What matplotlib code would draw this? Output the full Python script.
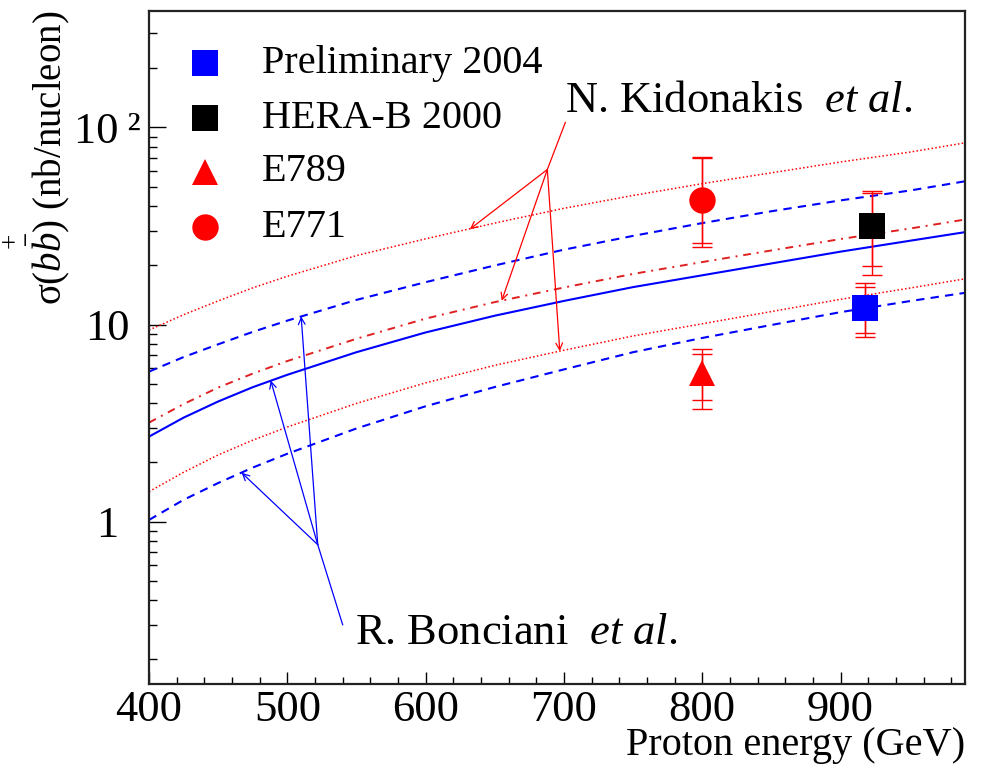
import matplotlib
matplotlib.use('Agg')
import matplotlib.pyplot as plt
import numpy as np
from matplotlib.ticker import FixedLocator, MultipleLocator, LogLocator, NullFormatter

plt.rcParams['font.family'] = ['Liberation Serif', 'DejaVu Serif']
plt.rcParams['mathtext.fontset'] = 'custom'
plt.rcParams['mathtext.rm'] = 'Liberation Serif'
plt.rcParams['mathtext.it'] = 'Liberation Serif:italic'
plt.rcParams['mathtext.bf'] = 'Liberation Serif:bold'

# ---------------- data ----------------
energy = [400, 425, 450, 475, 500, 550, 600, 650, 700, 750, 800, 850, 900, 950, 990]
bonciani_central = [2.70, 3.37, 4.07, 4.81, 5.56, 7.24, 9.12, 11.09, 13.18, 15.49, 17.78, 20.42, 23.44, 26.61, 29.44]
bonciani_upper = [5.77, 6.84, 7.94, 9.18, 10.47, 13.34, 16.41, 19.95, 23.99, 28.18, 32.73, 37.58, 42.66, 47.86, 53.33]
bonciani_lower = [1.02, 1.29, 1.57, 1.88, 2.21, 2.97, 3.85, 4.82, 5.92, 7.24, 8.55, 9.95, 11.56, 13.15, 14.49]
kidonakis_central = [3.18, 3.95, 4.79, 5.64, 6.53, 8.47, 10.72, 13.00, 15.42, 18.07, 20.75, 23.77, 27.16, 30.69, 34.12]
kidonakis_upper = [9.38, 11.22, 13.18, 15.35, 17.58, 22.39, 27.23, 32.73, 38.90, 45.19, 51.88, 58.88, 66.83, 74.99, 83.56]
kidonakis_lower = [1.42, 1.78, 2.18, 2.59, 3.02, 3.98, 5.06, 6.21, 7.41, 8.75, 10.09, 11.64, 13.43, 15.31, 17.06]

point_labels = ['Preliminary 2004', 'HERA-B 2000', 'E789', 'E771']
point_energy = [918, 923, 800, 800]
point_sigma = [12.2, 31.8, 5.7, 43.0]
stat_low = [9.1, 19.9, 4.16, 26.0]
stat_high = [15.5, 46.6, 7.13, 70.0]
tot_low = [8.6, 17.9, 3.73, 24.7]
tot_high = [16.3, 47.5, 7.55, 71.0]
point_markers = ['s', 's', '^', 'o']
point_colors = ['#0000ff', '#000000', '#ff0000', '#ff0000']

x_ticks = [400, 500, 600, 700, 800, 900]
y_ticks = [1, 10, 100]
y_tick_labels = ['1', '10', '10\u2009\u00b2']

kid_text = (701, 120)
kid_start = (701, 106)
kid_hub = (688, 61.2)
kid_tips = [(632, 30.5), (655, 13.2), (697, 7.33)]
bon_text = (549, 0.238)
bon_start = (540, 0.30)
bon_hub = (522, 0.764)
bon_tips = [(510, 11.0), (488, 5.2), (467, 1.77)]

# ---------------- figure ----------------
fig = plt.figure(figsize=(9.81, 7.65), dpi=100)
ax = fig.add_axes([0.1519, 0.1059, 0.8318, 0.8797])
ax.set_yscale('log')
ax.set_xlim(400, 990)
ax.set_ylim(0.15, 390)

blue = '#0000ff'
red = '#ff0000'
ax.plot(energy, kidonakis_upper, color=red, lw=1.1, ls=(0, (1, 1.5)))
ax.plot(energy, kidonakis_lower, color=red, lw=1.1, ls=(0, (1, 1.5)))
ax.plot(energy, kidonakis_central, color='#e02020', lw=1.4, ls=(0, (4, 3, 1, 3)))
ax.plot(energy, bonciani_upper, color=blue, lw=1.5, ls=(0, (4, 3)))
ax.plot(energy, bonciani_lower, color=blue, lw=1.5, ls=(0, (4, 3)))
ax.plot(energy, bonciani_central, color=blue, lw=1.5, ls='-')

for i in range(len(point_energy)):
    x = point_energy[i]
    y = point_sigma[i]
    for lo, hi in ((stat_low[i], stat_high[i]), (tot_low[i], tot_high[i])):
        ax.errorbar([x], [y], yerr=[[y - lo], [hi - y]], fmt='none', ecolor=red,
                    elinewidth=1.0, capsize=7, capthick=1.0, zorder=3)
    ax.plot([x], [y], marker=point_markers[i], color=point_colors[i], ms=19,
            mew=0, ls='none', zorder=4)

# legend (manual)
leg_y = [0.9227, 0.841, 0.7608, 0.679]
for i, lab in enumerate(point_labels):
    ax.plot([0.0686], [leg_y[i]], marker=point_markers[i], color=point_colors[i],
            ms=19, mew=0, transform=ax.transAxes, clip_on=False)
    ax.text(0.1385, leg_y[i], lab, transform=ax.transAxes, fontsize=29,
            va='center', ha='left')

# annotations
ax.text(kid_text[0], kid_text[1], r'N. Kidonakis  $\mathit{et\ al.}$', fontsize=32,
        ha='left', va='baseline')
ax.plot([kid_start[0], kid_hub[0]], [kid_start[1], kid_hub[1]], color=red, lw=0.9)
for tip in kid_tips:
    ax.annotate('', xy=tip, xytext=kid_hub,
                arrowprops=dict(arrowstyle='->', color=red, lw=0.9,
                                shrinkA=0, shrinkB=0, mutation_scale=12))
ax.text(bon_text[0], bon_text[1], r'R. Bonciani  $\mathit{et\ al.}$', fontsize=32,
        ha='left', va='baseline')
ax.plot([bon_start[0], bon_hub[0]], [bon_start[1], bon_hub[1]], color=blue, lw=0.9)
for tip in bon_tips:
    ax.annotate('', xy=tip, xytext=bon_hub,
                arrowprops=dict(arrowstyle='->', color=blue, lw=0.9,
                                shrinkA=0, shrinkB=0, mutation_scale=12))

# axes styling
ax.xaxis.set_major_locator(FixedLocator(x_ticks))
ax.xaxis.set_minor_locator(MultipleLocator(20))
ax.yaxis.set_major_locator(FixedLocator(y_ticks))
ax.yaxis.set_minor_locator(LogLocator(base=10, subs=np.arange(2, 10)))
ax.yaxis.set_minor_formatter(NullFormatter())
ax.set_yticklabels(y_tick_labels)
ax.tick_params(axis='both', which='both', direction='in', top=False, right=False)
ax.tick_params(axis='x', which='major', length=9, width=1, labelsize=32, pad=4)
ax.tick_params(axis='x', which='minor', length=5, width=1)
ax.tick_params(axis='y', which='major', length=12, width=1, labelsize=32, pad=30)
ax.tick_params(axis='y', which='minor', length=6, width=1)
for lab in ax.get_yticklabels():
    lab.set_horizontalalignment('center')
for sp in ax.spines.values():
    sp.set_linewidth(1.6)
    sp.set_color('#222222')

ax.text(1.0, -0.092, 'Proton energy (GeV)', transform=ax.transAxes, fontsize=29,
        ha='right', va='center')
ax.text(-0.138, 1.0, 'σ(' + r'$b\overset{+}{\bar{b}}$' + ') (nb/nucleon)',
        transform=ax.transAxes, fontsize=28, rotation=90, ha='center', va='top')

fig.savefig('out.png', dpi=100)
